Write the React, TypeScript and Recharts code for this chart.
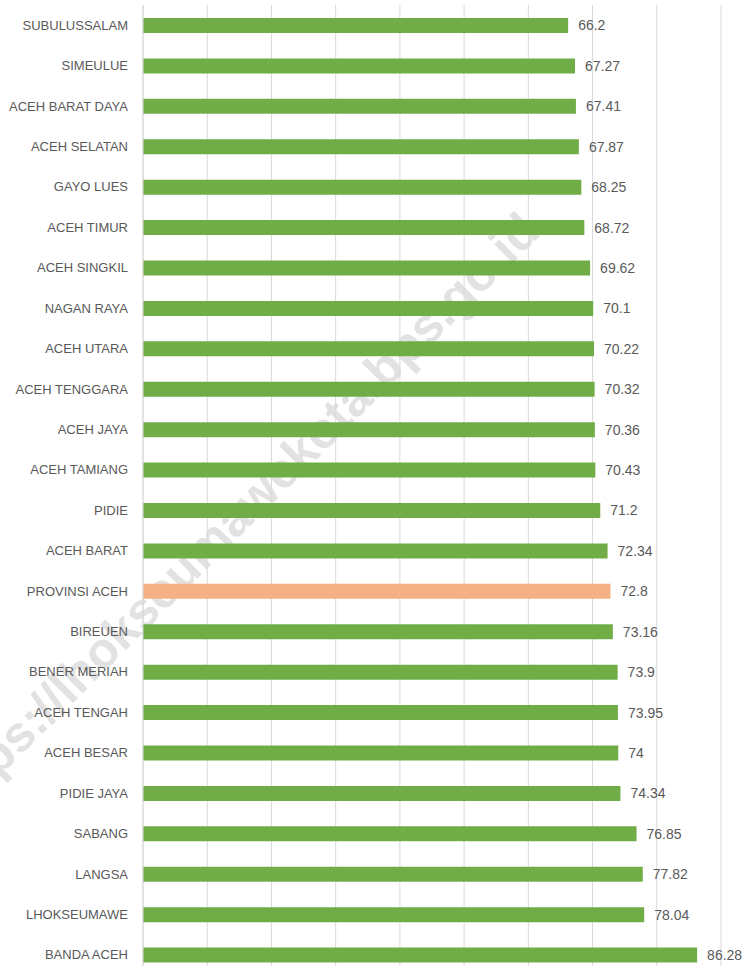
import { Bar, BarChart, CartesianGrid, Cell, LabelList, XAxis, YAxis } from "recharts"

// regencies / cities, top to bottom as drawn
const regions = [
  "SUBULUSSALAM", "SIMEULUE", "ACEH BARAT DAYA", "ACEH SELATAN", "GAYO LUES", "ACEH TIMUR",
  "ACEH SINGKIL", "NAGAN RAYA", "ACEH UTARA", "ACEH TENGGARA", "ACEH JAYA", "ACEH TAMIANG",
  "PIDIE", "ACEH BARAT", "PROVINSI ACEH", "BIREUEN", "BENER MERIAH", "ACEH TENGAH",
  "ACEH BESAR", "PIDIE JAYA", "SABANG", "LANGSA", "LHOKSEUMAWE", "BANDA ACEH",
]
const values = [
  66.2, 67.27, 67.41, 67.87, 68.25, 68.72,
  69.62, 70.1, 70.22, 70.32, 70.36, 70.43,
  71.2, 72.34, 72.8, 73.16, 73.9, 73.95,
  74, 74.34, 76.85, 77.82, 78.04, 86.28,
]
const xTicks = [0, 10, 20, 30, 40, 50, 60, 70, 80, 90]
const highlight = "PROVINSI ACEH"

const data = regions.map((name, i) => ({ name, value: values[i] }))

const font = "'Liberation Sans', Arial, sans-serif"

// single-line category label (default tick wraps long names)
function RegionTick(props: any) {
  const { x, y, payload } = props
  return (
    <text x={x} y={y} dy="0.35em" textAnchor="end" fill="#595959" fontSize={13} fontFamily={font}>
      {payload.value}
    </text>
  )
}

export default function App() {
  return (
    <div style={{ position: "absolute", left: 0, top: 0, width: 747, height: 966, overflow: "hidden", background: "#fff" }}>
      {/* watermark sits under the chart */}
      <svg width={747} height={966} style={{ position: "absolute", left: 0, top: 0 }}>
        <text
          x={542}
          y={234}
          textAnchor="end"
          transform="rotate(-45 542 234)"
          fontFamily={font}
          fontWeight="bold"
          fontSize={50}
          fill="#e2e2e2"
        >
          https://lhokseumawekota.bps.go.id
        </text>
      </svg>
      <div style={{ position: "absolute", left: 0, top: 0 }}>
        <BarChart
          width={747}
          height={975}
          data={data}
          layout="vertical"
          margin={{ top: 5, right: 26, left: 0, bottom: 0 }}
          barSize={15}
        >
          <CartesianGrid horizontal={false} stroke="#d9d9d9" />
          <XAxis type="number" domain={[0, 90]} ticks={xTicks} hide />
          <YAxis
            type="category"
            dataKey="name"
            width={143}
            tickLine={false}
            axisLine={{ stroke: "#d9d9d9" }}
            tickMargin={9}
            interval={0}
            tick={<RegionTick />}
          />
          <Bar dataKey="value" isAnimationActive={false}>
            {data.map((d) => (
              <Cell key={d.name} fill={d.name === highlight ? "#f4b183" : "#70ad47"} />
            ))}
            <LabelList
              dataKey="value"
              position="right"
              offset={10}
              fill="#595959"
              fontSize={14}
              fontFamily={font}
            />
          </Bar>
        </BarChart>
      </div>
    </div>
  )
}
